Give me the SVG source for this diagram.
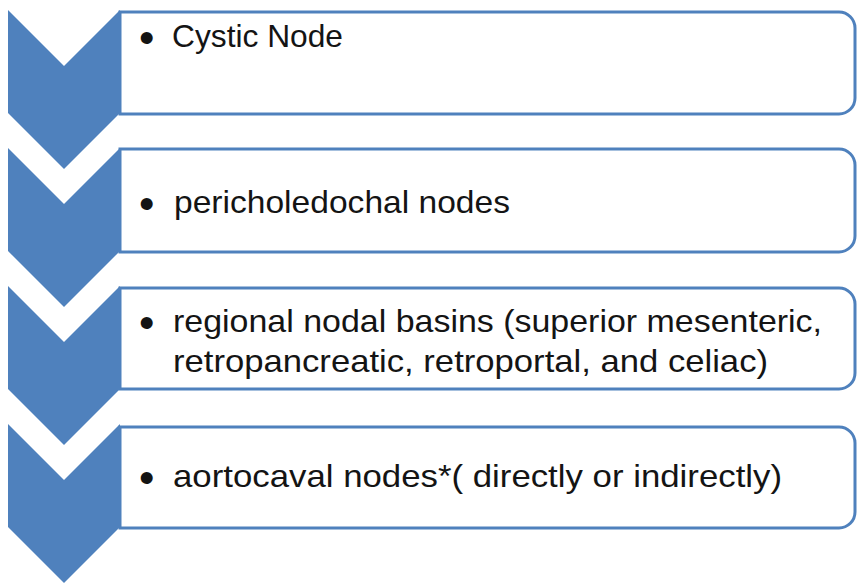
<svg xmlns="http://www.w3.org/2000/svg" width="858" height="583" viewBox="0 0 858 583">
<style>
.chev{fill:#4f81bd;stroke:none}
.box{fill:#ffffff;stroke:#4f81bd;stroke-width:3}
.t{font-family:"Liberation Sans",Arial,sans-serif;font-size:32px;fill:#141414}
.b{font-family:"Liberation Sans",Arial,sans-serif;font-size:44px;fill:#141414}
</style>
<rect width="858" height="583" fill="#ffffff"/>
<g id="connectors"></g>
<g id="node1">
<path class="box" d="M120,12 H839 A16,16 0 0 1 855,28 V98 A16,16 0 0 1 839,114 H120 Z"/>
<path class="chev" d="M8,10 L64,66 L120,10 V113 L64,169 L8,113 Z"/>
<text class="b" x="139" y="53">•</text>
<text class="t" x="172" y="47" textLength="171" lengthAdjust="spacingAndGlyphs">Cystic Node</text>
</g>
<g id="node2">
<path class="box" d="M120,149 H839 A16,16 0 0 1 855,165 V236 A16,16 0 0 1 839,252 H120 Z"/>
<path class="chev" d="M8,148 L64,204 L120,148 V251 L64,307 L8,251 Z"/>
<text class="b" x="139" y="219">•</text>
<text class="t" x="174" y="213" textLength="336" lengthAdjust="spacingAndGlyphs">pericholedochal nodes</text>
</g>
<g id="node3">
<path class="box" d="M120,288 H839 A16,16 0 0 1 855,304 V373 A16,16 0 0 1 839,389 H120 Z"/>
<path class="chev" d="M8,286 L64,342 L120,286 V389 L64,445 L8,389 Z"/>
<text class="b" x="139" y="338">•</text>
<text class="t" x="173" y="332" textLength="649" lengthAdjust="spacingAndGlyphs">regional nodal basins (superior mesenteric,</text>
<text class="t" x="173" y="372" textLength="595" lengthAdjust="spacingAndGlyphs">retropancreatic, retroportal, and celiac)</text>
</g>
<g id="node4">
<path class="box" d="M120,427 H839 A16,16 0 0 1 855,443 V512 A16,16 0 0 1 839,528 H120 Z"/>
<path class="chev" d="M8,424 L64,480 L120,424 V527 L64,583 L8,527 Z"/>
<text class="b" x="139" y="493">•</text>
<text class="t" x="173" y="487" textLength="609" lengthAdjust="spacingAndGlyphs">aortocaval nodes*( directly or indirectly)</text>
</g>
</svg>
